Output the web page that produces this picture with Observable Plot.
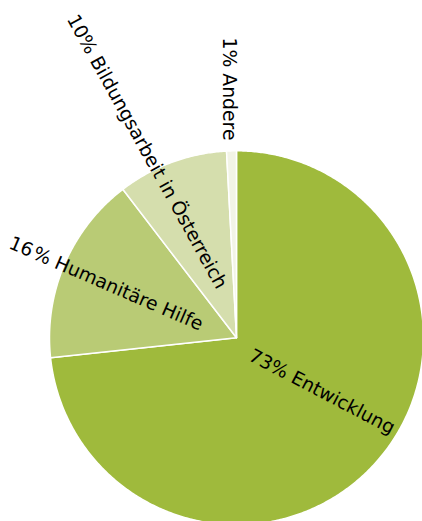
<!DOCTYPE html>
<html>
<head>
<meta charset="utf-8">
<script src="https://cdn.jsdelivr.net/npm/d3@7"></script>
<script src="https://cdn.jsdelivr.net/npm/@observablehq/plot@0.6"></script>
<style>
  html, body { margin: 0; padding: 0; background: #ffffff; }
  #chart { width: 422px; height: 521px; overflow: hidden; }
</style>
</head>
<body>
<div id="chart"></div>
<script>
// --- data ---
const categories = ["Entwicklung", "Humanitäre Hilfe", "Bildungsarbeit in Österreich", "Andere"];
const values = [73.3, 16.3, 9.55, 0.85];
const labels = ["73% Entwicklung", "16\u200A% Humanitäre Hilfe", "10% Bildungsarbeit in Österreich", "1% Andere"];
const colors = ["#9fba3c", "#b9cb75", "#d5dead", "#f2f4e6"];

// --- label layout (angle clockwise from top, radius as fraction of pie radius, text rotation) ---
const labelAngle = [122.3, 292.5, 334.3, 358.3];
const labelRadius = [0.54, 0.755, 1.105, 1.331];
const labelRotate = [27.5, 23.4, 61, 90];

// --- geometry ---
const W = 422, H = 521;
const R = 187;            // pie radius in px units
const cx = 236, cy = 337.3; // pie centre in the frame

const arcs = d3.pie().sort(null).value(d => d.value)(
  categories.map((c, i) => ({name: c, value: values[i]}))
);

// outline of each slice: centre -> arc -> centre
const outline = [];
arcs.forEach(a => {
  const name = a.data.name;
  outline.push({name, x: 0, y: 0});
  const span = a.endAngle - a.startAngle;
  const n = Math.max(2, Math.ceil(span / (Math.PI / 360)));
  for (let k = 0; k <= n; k++) {
    const t = a.startAngle + span * k / n;
    outline.push({name, x: R * Math.sin(t), y: R * Math.cos(t)});
  }
  outline.push({name, x: 0, y: 0});
});

const labelData = categories.map((c, i) => {
  const t = labelAngle[i] * Math.PI / 180;
  return {
    name: c,
    text: labels[i],
    x: R * labelRadius[i] * Math.sin(t),
    y: R * labelRadius[i] * Math.cos(t),
    rotate: labelRotate[i]
  };
});

const chart = Plot.plot({
  width: W,
  height: H,
  margin: 0,
  x: {domain: [-cx, W - cx], axis: null},
  y: {domain: [-(H - cy), cy], axis: null},
  color: {domain: categories, range: colors},
  style: {background: "#ffffff", overflow: "hidden"},
  marks: [
    Plot.line(outline, {
      x: "x", y: "y", z: "name", fill: "name",
      stroke: "#ffffff", strokeWidth: 1.5, strokeLinejoin: "round"
    }),
    Plot.text(labelData, {
      x: "x", y: "y", text: "text", rotate: "rotate",
      fontSize: 18.8, fontFamily: "DejaVu Sans", fill: "#000000",
      textAnchor: "middle", lineAnchor: "middle"
    })
  ]
});

document.getElementById("chart").appendChild(chart);
</script>
</body>
</html>
